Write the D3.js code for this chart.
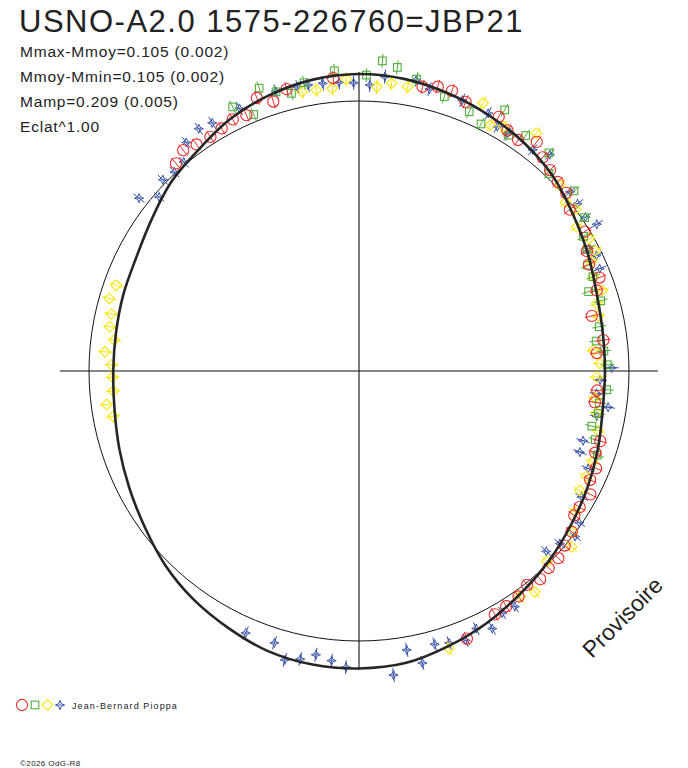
<!DOCTYPE html>
<html><head><meta charset="utf-8">
<script src="https://cdn.jsdelivr.net/npm/d3@7"></script>
<style>
html,body{margin:0;padding:0;background:#fff;}
svg{display:block;font-family:"Liberation Sans",Arial,sans-serif;}
</style></head><body>
<svg id="chart" width="688" height="768"></svg>
<script>
// ---- texts ----
const title = "USNO-A2.0 1575-226760=JBP21";
const statLines = ["Mmax-Mmoy=0.105 (0.002)", "Mmoy-Mmin=0.105 (0.002)", "Mamp=0.209 (0.005)", "Eclat^1.00"];
const observer = "Jean-Bernard Pioppa";
const copyright = "\u00a92026 OdG-R8";
const watermark = "Provisoire";

// ---- model light curve: phase, magnitude offset from mean (negative = brighter) ----
const curvePhase = [0,0.025,0.05,0.075,0.1,0.125,0.15,0.175,0.2,0.225,0.25,0.275,0.3,0.325,0.35,0.375,0.4,0.425,0.45,0.475,
  0.5,0.525,0.55,0.575,0.6,0.625,0.65,0.675,0.7,0.725,0.75,0.775,0.8,0.825,0.85,0.875,0.9,0.925,0.95,0.975];
const curveMag = [-0.108,-0.102,-0.086,-0.067,-0.046,-0.019,0.020,0.052,0.080,0.093,0.096,0.093,0.075,0.054,0.032,0.006,-0.020,-0.050,-0.077,-0.103,
  -0.110,-0.109,-0.098,-0.073,-0.048,-0.017,0.020,0.049,0.072,0.090,0.097,0.096,0.089,0.080,0.053,0.015,-0.013,-0.052,-0.080,-0.100];

// ---- observations: [phase, magnitude offset] ----
const obsCircle = [[0.885,-0.027],[0.893,-0.049],[0.901,-0.035],[0.910,-0.029],[0.918,-0.035],[0.926,-0.046],[0.934,-0.038],[0.943,-0.086],[0.951,-0.051],[0.960,-0.084],[0.986,-0.096],[0.035,-0.085],[0.043,-0.100],[0.051,-0.101],[0.060,-0.078],[0.080,-0.080],[0.088,-0.051],[0.096,-0.042],[0.105,-0.080],[0.113,-0.047],[0.121,-0.029],[0.129,-0.017],[0.137,-0.013],[0.146,0.018],[0.162,0.018],[0.173,0.050],[0.181,0.066],[0.191,0.048],[0.198,0.076],[0.213,0.123],[0.230,0.095],[0.238,0.126],[0.263,0.124],[0.271,0.128],[0.295,0.075],[0.303,0.080],[0.312,0.055],[0.320,0.058],[0.328,0.031],[0.338,0.043],[0.344,0.043],[0.353,0.014],[0.362,0.001],[0.370,-0.014],[0.378,-0.014],[0.386,-0.024],[0.394,-0.008],[0.402,-0.025],[0.411,-0.030],[0.419,-0.035],[0.439,-0.074]];
const obsSquare = [[0.929,-0.091],[0.938,-0.029],[0.946,-0.120],[0.954,-0.085],[0.962,-0.063],[0.970,-0.094],[0.987,-0.125],[0.004,-0.104],[0.012,-0.164],[0.020,-0.144],[0.031,-0.110],[0.048,-0.069],[0.064,-0.047],[0.073,-0.022],[0.081,-0.116],[0.090,-0.037],[0.098,-0.074],[0.114,-0.077],[0.122,-0.016],[0.139,-0.042],[0.155,-0.011],[0.164,0.033],[0.172,0.046],[0.181,0.073],[0.189,0.071],[0.197,0.108],[0.205,0.073],[0.221,0.103],[0.230,0.124],[0.237,0.097],[0.246,0.086],[0.262,0.086],[0.271,0.110],[0.278,0.108],[0.287,0.123],[0.295,0.096],[0.304,0.069]];
const obsDiamond = [[0.968,-0.060],[0.976,-0.057],[0.985,-0.056],[0.993,-0.088],[0.010,-0.059],[0.018,-0.078],[0.027,-0.074],[0.069,-0.101],[0.078,-0.035],[0.085,-0.056],[0.102,-0.107],[0.131,-0.016],[0.141,0.013],[0.148,-0.001],[0.157,0.036],[0.167,0.017],[0.175,0.019],[0.180,0.052],[0.189,0.069],[0.199,0.056],[0.206,0.091],[0.214,0.098],[0.236,0.139],[0.245,0.116],[0.254,0.129],[0.268,0.130],[0.278,0.114],[0.289,0.094],[0.309,0.077],[0.319,0.078],[0.329,0.076],[0.342,0.049],[0.353,0.010],[0.360,-0.024],[0.376,0.010],[0.393,-0.049],[0.401,-0.029],[0.450,-0.087],[0.721,0.080],[0.729,0.062],[0.737,0.094],[0.746,0.094],[0.754,0.090],[0.762,0.061],[0.770,0.093],[0.778,0.068],[0.786,0.064],[0.795,0.040],[0.804,0.050]];
const obsStar = [[0.856,-0.039],[0.864,0.020],[0.873,-0.016],[0.881,-0.005],[0.889,-0.011],[0.897,-0.066],[0.907,-0.082],[0.915,-0.073],[0.932,-0.074],[0.954,-0.087],[0.966,-0.082],[0.972,-0.082],[0.980,-0.080],[0.989,-0.077],[0.997,-0.073],[0.006,-0.065],[0.014,-0.102],[0.031,-0.107],[0.039,-0.082],[0.058,-0.079],[0.074,-0.073],[0.082,-0.043],[0.089,-0.040],[0.106,-0.045],[0.115,-0.074],[0.138,-0.028],[0.146,-0.021],[0.155,-0.015],[0.162,-0.038],[0.172,0.036],[0.178,0.024],[0.186,0.034],[0.248,0.069],[0.256,0.115],[0.265,0.125],[0.273,0.073],[0.280,0.112],[0.298,0.141],[0.306,0.139],[0.314,0.084],[0.332,0.057],[0.346,0.010],[0.354,-0.009],[0.363,0.021],[0.372,0.040],[0.407,-0.050],[0.415,-0.045],[0.424,-0.080],[0.432,-0.052],[0.440,-0.079],[0.449,-0.066],[0.457,-0.054],[0.466,-0.115],[0.473,-0.052],[0.482,-0.144],[0.507,-0.106],[0.515,-0.084],[0.524,-0.068],[0.532,-0.096],[0.540,-0.113],[0.548,-0.059],[0.565,-0.062]];
const errHalf = 0.028; // half-length of error bar in magnitudes
const axisMag = -0.116; // axis cross extent

// ---- layout ----
const svg = d3.select("#chart");
const cx = 359, cy = 371;
const aScale = d3.scaleLinear().domain([0, 1]).range([0, 2 * Math.PI]);
const rScale = d3.scaleLinear().domain([0, -0.1]).range([270, 295]);
const g = svg.append("g").attr("transform", `translate(${cx},${cy})`);

// axes
const ax = rScale(axisMag);
g.append("line").attr("x1", -ax).attr("x2", ax).attr("y1", 0).attr("y2", 0).attr("stroke", "#111").attr("stroke-width", 1.1);
g.append("line").attr("y1", -ax).attr("y2", ax).attr("x1", 0).attr("x2", 0).attr("stroke", "#111").attr("stroke-width", 1.1);
// mean circle
g.append("circle").attr("r", rScale(0)).attr("fill", "none").attr("stroke", "#111").attr("stroke-width", 1);

// markers
const colors = {circle: "#ee2a2a", square: "#4fae3a", diamond: "#f7e600", star: "#3552a6"};
function starPath(R, r) {
  const pts = [];
  for (let i = 0; i < 8; i++) {
    const a = i * Math.PI / 4;
    const rr = i % 2 === 0 ? R : r;
    pts.push([rr * Math.sin(a), -rr * Math.cos(a)]);
  }
  return "M" + pts.map(p => p[0].toFixed(2) + "," + p[1].toFixed(2)).join("L") + "Z";
}
function drawShape(sel, type) {
  const c = colors[type];
  if (type === "circle") sel.append("circle").attr("r", 5.6).attr("fill", "none").attr("stroke", c).attr("stroke-width", 1.1);
  else if (type === "square") sel.append("rect").attr("x", -3.8).attr("y", -3.8).attr("width", 7.6).attr("height", 7.6).attr("fill", "none").attr("stroke", c).attr("stroke-width", 1.1);
  else if (type === "diamond") sel.append("path").attr("d", "M0,-5.3L5.3,0L0,5.3L-5.3,0Z").attr("fill", "none").attr("stroke", c).attr("stroke-width", 1.1);
  else {
    sel.append("path").attr("d", starPath(4.6, 1.9)).attr("fill", "none").attr("stroke", c).attr("stroke-width", 1);
    sel.append("path").attr("d", "M-2.2,0L2.2,0").attr("stroke", c).attr("stroke-width", 0.9);
  }
}
function drawSeries(data, type) {
  const grp = g.append("g");
  data.forEach(([ph, m]) => {
    const a = aScale(ph);
    const p0 = d3.pointRadial(a, rScale(m - errHalf));
    const p1 = d3.pointRadial(a, rScale(m + errHalf));
    grp.append("line").attr("x1", p0[0]).attr("y1", p0[1]).attr("x2", p1[0]).attr("y2", p1[1])
      .attr("stroke", colors[type]).attr("stroke-width", 1);
    const p = d3.pointRadial(a, rScale(m));
    drawShape(grp.append("g").attr("transform", `translate(${p[0]},${p[1]})`), type);
  });
}
drawSeries(obsStar, "star");
drawSeries(obsDiamond, "diamond");
drawSeries(obsSquare, "square");
drawSeries(obsCircle, "circle");

// model curve
const curveData = curvePhase.map((p, i) => ({p, m: curveMag[i]}));
const lineR = d3.lineRadial().angle(d => aScale(d.p)).radius(d => rScale(d.m)).curve(d3.curveCatmullRomClosed);
g.append("path").attr("d", lineR(curveData)).attr("fill", "none").attr("stroke", "#262626").attr("stroke-width", 2.6);

// texts
svg.append("text").attr("x", 19).attr("y", 32).attr("font-size", 31).attr("letter-spacing", 1.5).attr("fill", "#222").text(title);
statLines.forEach((t, i) => {
  svg.append("text").attr("x", 20).attr("y", 57 + i * 25).attr("font-size", 15.5).attr("letter-spacing", 0.8).attr("fill", "#222").text(t);
});
svg.append("text").attr("transform", "translate(592,659) rotate(-45)").attr("font-size", 23).attr("fill", "#222").text(watermark);

// legend
const leg = svg.append("g");
[["circle", 22], ["square", 35], ["diamond", 47.5], ["star", 60]].forEach(([t, x]) => {
  drawShape(leg.append("g").attr("transform", `translate(${x},705)`), t);
});
svg.append("text").attr("x", 72).attr("y", 708.5).attr("font-size", 9).attr("letter-spacing", 1.1).attr("fill", "#222").text(observer);
svg.append("text").attr("x", 20).attr("y", 766).attr("font-size", 8).attr("letter-spacing", 0.4).attr("fill", "#222").text(copyright);
</script>
</body></html>
